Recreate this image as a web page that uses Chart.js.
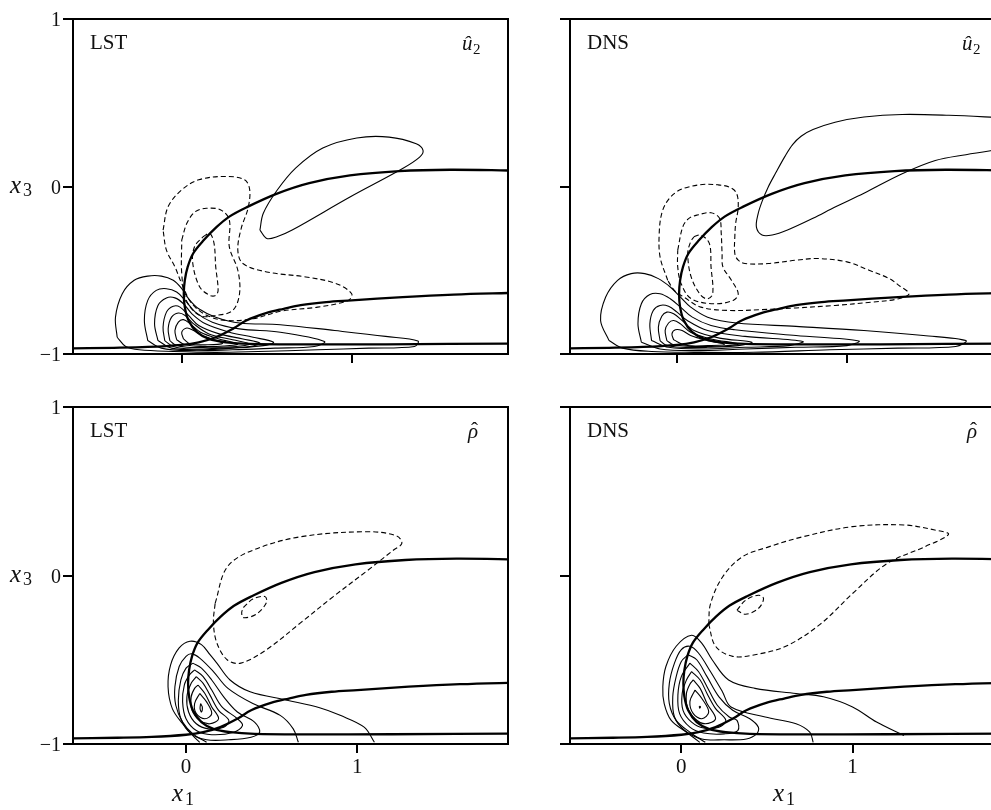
<!DOCTYPE html>
<html>
<head>
<meta charset="utf-8">
<script src="https://cdn.jsdelivr.net/npm/chart.js@4.4.0/dist/chart.umd.min.js"></script>
<style>
  html, body { margin: 0; padding: 0; background: #fff; overflow: hidden; }
  #fig { position: relative; width: 1030px; height: 810px; }
  canvas { position: absolute; }
</style>
</head>
<body>
<div id="fig">
  <canvas id="tl" width="520" height="380" style="left:0;top:0"></canvas>
  <canvas id="tr" width="520" height="380" style="left:500px;top:0"></canvas>
  <canvas id="bl" width="520" height="420" style="left:0;top:390px"></canvas>
  <canvas id="br" width="520" height="420" style="left:500px;top:390px"></canvas>
</div>
<script>
// ticks
const xTicks = [0, 1];
const xTickLabels = ['0', '1'];
const yTicks = [-1, 0, 1];
const yTickLabels = ['\u22121', '0', '1'];

// thick base curves (same in every panel)
const thickUpper = [[1.95,0.095],[1.58,0.10],[1.28,0.092],[0.99,0.066],[0.75,0.02],[0.557,-0.044],[0.38,-0.125],[0.28,-0.18],[0.204,-0.243],[0.13,-0.32],[0.067,-0.40],[0.035,-0.48],[0.018,-0.56],[0.012,-0.64],[0.018,-0.72],[0.04,-0.80],[0.09,-0.87],[0.16,-0.91],[0.26,-0.93],[0.40,-0.94],[0.70,-0.943],[1.20,-0.942],[1.95,-0.938]];
const thickLower = [[-0.70,-0.967],[-0.40,-0.963],[-0.20,-0.958],[0.0,-0.945],[0.10,-0.93],[0.20,-0.90],[0.30,-0.85],[0.38,-0.80],[0.50,-0.755],[0.60,-0.73],[0.70,-0.708],[0.85,-0.69],[1.0,-0.68],[1.30,-0.66],[1.60,-0.645],[1.95,-0.635]];

// LST, u2
const lstU2Solid = [
  [[-0.38,-0.90],[-0.39,-0.78],[-0.35,-0.64],[-0.28,-0.56],[-0.20,-0.535],[-0.12,-0.535],[-0.05,-0.56],[0.0,-0.61],[0.04,-0.67],[0.10,-0.73],[0.20,-0.78],[0.34,-0.815],[0.58,-0.825],[0.90,-0.86],[1.20,-0.895],[1.39,-0.922],[1.37,-0.955],[1.10,-0.965],[0.80,-0.975],[0.45,-0.985],[0.20,-0.99],[-0.05,-0.985],[-0.25,-0.975],[-0.33,-0.955],[-0.38,-0.90]],
  [[-0.20,-0.92],[-0.22,-0.80],[-0.20,-0.68],[-0.15,-0.62],[-0.09,-0.61],[-0.03,-0.63],[0.02,-0.68],[0.08,-0.75],[0.18,-0.81],[0.34,-0.85],[0.58,-0.87],[0.84,-0.925],[0.78,-0.955],[0.55,-0.965],[0.30,-0.975],[0.05,-0.98],[-0.12,-0.965],[-0.20,-0.92]],
  [[-0.14,-0.92],[-0.16,-0.82],[-0.14,-0.71],[-0.09,-0.665],[-0.04,-0.665],[0.01,-0.70],[0.06,-0.76],[0.14,-0.82],[0.28,-0.87],[0.42,-0.90],[0.54,-0.93],[0.48,-0.95],[0.30,-0.965],[0.10,-0.975],[-0.06,-0.965],[-0.14,-0.92]],
  [[-0.10,-0.92],[-0.11,-0.84],[-0.09,-0.75],[-0.05,-0.715],[-0.01,-0.72],[0.04,-0.77],[0.10,-0.83],[0.22,-0.88],[0.36,-0.91],[0.46,-0.935],[0.40,-0.955],[0.22,-0.965],[0.06,-0.97],[-0.05,-0.955],[-0.10,-0.92]],
  [[-0.07,-0.92],[-0.08,-0.85],[-0.06,-0.78],[-0.02,-0.755],[0.02,-0.77],[0.07,-0.82],[0.16,-0.88],[0.30,-0.915],[0.40,-0.94],[0.32,-0.955],[0.16,-0.96],[0.03,-0.96],[-0.04,-0.945],[-0.07,-0.92]],
  [[-0.03,-0.915],[-0.04,-0.86],[-0.02,-0.81],[0.01,-0.795],[0.05,-0.82],[0.11,-0.87],[0.22,-0.91],[0.33,-0.94],[0.25,-0.952],[0.12,-0.955],[0.02,-0.945],[-0.03,-0.915]],
  [[0.01,-0.91],[0.0,-0.87],[0.03,-0.845],[0.07,-0.86],[0.12,-0.89],[0.24,-0.935],[0.15,-0.945],[0.05,-0.94],[0.01,-0.91]],
  [[0.46,-0.26],[0.48,-0.16],[0.56,-0.024],[0.67,0.11],[0.83,0.23],[1.03,0.29],[1.22,0.295],[1.38,0.255],[1.42,0.215],[1.40,0.175],[1.30,0.107],[0.99,-0.063],[0.65,-0.26],[0.56,-0.30],[0.50,-0.31],[0.46,-0.26]]
];
const lstU2Dashed = [
  [[-0.11,-0.26],[-0.08,-0.12],[0.0,-0.02],[0.10,0.04],[0.26,0.06],[0.37,0.04],[0.40,-0.02],[0.39,-0.13],[0.35,-0.25],[0.33,-0.38],[0.36,-0.46],[0.50,-0.51],[0.73,-0.54],[0.91,-0.58],[1.0,-0.64],[0.98,-0.68],[0.80,-0.72],[0.58,-0.745],[0.42,-0.79],[0.26,-0.80],[0.15,-0.77],[0.06,-0.70],[0.0,-0.58],[-0.04,-0.48],[-0.09,-0.38],[-0.11,-0.26]],
  [[0.0,-0.32],[0.03,-0.22],[0.08,-0.15],[0.145,-0.13],[0.23,-0.14],[0.28,-0.20],[0.28,-0.36],[0.33,-0.50],[0.34,-0.64],[0.30,-0.74],[0.20,-0.77],[0.106,-0.77],[0.027,-0.68],[0.0,-0.52],[0.0,-0.32]],
  [[0.125,-0.30],[0.165,-0.28],[0.19,-0.34],[0.20,-0.48],[0.214,-0.62],[0.20,-0.65],[0.165,-0.65],[0.106,-0.60],[0.065,-0.46],[0.075,-0.36],[0.125,-0.30]]
];

// DNS, u2
const dnsU2Solid = [
  [[-0.40,-0.92],[-0.45,-0.80],[-0.42,-0.66],[-0.35,-0.56],[-0.27,-0.52],[-0.19,-0.52],[-0.11,-0.55],[-0.04,-0.60],[0.02,-0.66],[0.08,-0.72],[0.18,-0.78],[0.35,-0.815],[0.70,-0.835],[1.10,-0.86],[1.45,-0.89],[1.70,-0.92],[1.64,-0.955],[1.30,-0.965],[0.90,-0.975],[0.45,-0.99],[0.10,-0.99],[-0.15,-0.985],[-0.32,-0.965],[-0.40,-0.92]],
  [[-0.21,-0.93],[-0.23,-0.82],[-0.21,-0.70],[-0.16,-0.645],[-0.10,-0.64],[-0.04,-0.67],[0.02,-0.72],[0.09,-0.78],[0.20,-0.83],[0.34,-0.855],[0.70,-0.89],[1.07,-0.922],[1.00,-0.95],[0.70,-0.96],[0.40,-0.97],[0.10,-0.98],[-0.10,-0.97],[-0.21,-0.93]],
  [[-0.15,-0.92],[-0.16,-0.82],[-0.14,-0.74],[-0.10,-0.71],[-0.05,-0.715],[0.0,-0.75],[0.06,-0.80],[0.18,-0.86],[0.40,-0.895],[0.74,-0.925],[0.66,-0.95],[0.40,-0.96],[0.15,-0.97],[-0.05,-0.96],[-0.15,-0.92]],
  [[-0.10,-0.92],[-0.11,-0.84],[-0.09,-0.775],[-0.06,-0.75],[-0.02,-0.76],[0.03,-0.80],[0.10,-0.86],[0.25,-0.905],[0.44,-0.93],[0.36,-0.95],[0.18,-0.96],[0.02,-0.96],[-0.07,-0.945],[-0.10,-0.92]],
  [[-0.06,-0.92],[-0.07,-0.86],[-0.05,-0.815],[-0.02,-0.80],[0.02,-0.82],[0.08,-0.87],[0.20,-0.91],[0.36,-0.94],[0.26,-0.952],[0.10,-0.955],[-0.02,-0.945],[-0.06,-0.92]],
  [[-0.02,-0.915],[-0.03,-0.88],[-0.01,-0.855],[0.03,-0.86],[0.08,-0.89],[0.18,-0.92],[0.28,-0.942],[0.18,-0.95],[0.05,-0.948],[-0.02,-0.915]],
  [[1.92,0.41],[1.60,0.425],[1.325,0.43],[1.10,0.415],[0.93,0.384],[0.80,0.34],[0.73,0.30],[0.68,0.25],[0.635,0.18],[0.58,0.08],[0.536,-0.004],[0.50,-0.09],[0.477,-0.163],[0.467,-0.243],[0.50,-0.29],[0.56,-0.29],[0.65,-0.26],[0.80,-0.19],[0.93,-0.123],[1.10,-0.04],[1.325,0.076],[1.52,0.155],[1.70,0.19],[1.92,0.225]]
];
const dnsU2Dashed = [
  [[-0.055,-0.56],[-0.10,-0.42],[-0.105,-0.28],[-0.09,-0.16],[-0.055,-0.084],[0.0,-0.03],[0.063,-0.004],[0.15,0.012],[0.24,0.01],[0.31,-0.005],[0.35,-0.04],[0.36,-0.123],[0.345,-0.22],[0.34,-0.30],[0.34,-0.40],[0.36,-0.44],[0.40,-0.46],[0.536,-0.46],[0.70,-0.44],[0.83,-0.43],[1.0,-0.45],[1.13,-0.50],[1.25,-0.55],[1.305,-0.59],[1.365,-0.64],[1.305,-0.67],[1.15,-0.69],[0.93,-0.71],[0.70,-0.725],[0.50,-0.735],[0.30,-0.74],[0.14,-0.72],[0.04,-0.66],[-0.016,-0.62],[-0.055,-0.56]],
  [[0.004,-0.38],[0.034,-0.24],[0.07,-0.19],[0.12,-0.17],[0.20,-0.157],[0.25,-0.19],[0.26,-0.28],[0.265,-0.40],[0.27,-0.48],[0.32,-0.56],[0.36,-0.64],[0.33,-0.68],[0.22,-0.70],[0.083,-0.67],[0.024,-0.58],[0.004,-0.48],[0.004,-0.38]],
  [[0.10,-0.30],[0.14,-0.29],[0.19,-0.34],[0.20,-0.48],[0.21,-0.64],[0.18,-0.67],[0.14,-0.65],[0.083,-0.54],[0.063,-0.40],[0.08,-0.33],[0.10,-0.30]]
];

// LST, rho
const lstRhoSolid = [
  [[0.08,-0.99],[0.04,-0.95],[-0.02,-0.88],[-0.08,-0.79],[-0.105,-0.66],[-0.09,-0.53],[-0.04,-0.43],[0.023,-0.39],[0.09,-0.41],[0.14,-0.47],[0.18,-0.52],[0.257,-0.62],[0.374,-0.69],[0.59,-0.74],[0.78,-0.785],[0.90,-0.83],[1.04,-0.90],[1.10,-0.99]],
  [[0.12,-0.99],[0.04,-0.94],[-0.02,-0.87],[-0.06,-0.77],[-0.065,-0.66],[-0.04,-0.54],[0.0,-0.48],[0.033,-0.465],[0.08,-0.49],[0.16,-0.57],[0.245,-0.67],[0.39,-0.76],[0.55,-0.83],[0.626,-0.91],[0.656,-0.99]],
  [[0.04,-0.52],[0.09,-0.55],[0.15,-0.62],[0.22,-0.72],[0.30,-0.81],[0.40,-0.87],[0.43,-0.93],[0.38,-0.96],[0.25,-0.975],[0.12,-0.975],[0.03,-0.94],[-0.03,-0.85],[-0.045,-0.74],[-0.03,-0.62],[0.0,-0.55],[0.04,-0.52]],
  [[0.05,-0.56],[0.10,-0.60],[0.15,-0.68],[0.21,-0.78],[0.30,-0.85],[0.33,-0.89],[0.28,-0.93],[0.15,-0.945],[0.06,-0.92],[0.0,-0.85],[-0.02,-0.75],[-0.01,-0.65],[0.02,-0.59],[0.05,-0.56]],
  [[0.06,-0.60],[0.10,-0.64],[0.14,-0.71],[0.19,-0.80],[0.25,-0.86],[0.22,-0.90],[0.13,-0.91],[0.06,-0.88],[0.015,-0.81],[0.005,-0.72],[0.03,-0.64],[0.06,-0.60]],
  [[0.07,-0.65],[0.11,-0.70],[0.15,-0.78],[0.19,-0.85],[0.14,-0.88],[0.08,-0.86],[0.035,-0.80],[0.03,-0.72],[0.05,-0.67],[0.07,-0.65]],
  [[0.08,-0.70],[0.12,-0.75],[0.15,-0.82],[0.11,-0.85],[0.06,-0.82],[0.05,-0.76],[0.08,-0.70]],
  [[0.085,-0.76],[0.095,-0.78],[0.09,-0.81],[0.082,-0.79],[0.085,-0.76]]
];
const lstRhoDashed = [
  [[0.17,-0.165],[0.24,0.05],[0.39,0.15],[0.67,0.23],[1.06,0.26],[1.23,0.235],[1.26,0.19],[1.21,0.15],[1.06,0.03],[0.86,-0.125],[0.67,-0.28],[0.47,-0.44],[0.32,-0.52],[0.24,-0.50],[0.18,-0.40],[0.16,-0.28],[0.17,-0.165]],
  [[0.335,-0.19],[0.39,-0.14],[0.46,-0.125],[0.47,-0.16],[0.41,-0.23],[0.335,-0.25],[0.325,-0.22],[0.335,-0.19]]
];

// DNS, rho
const dnsRhoSolid = [
  [[0.108,-0.99],[0.03,-0.93],[-0.059,-0.86],[-0.10,-0.76],[-0.108,-0.66],[-0.09,-0.54],[-0.03,-0.42],[0.06,-0.355],[0.118,-0.40],[0.18,-0.50],[0.276,-0.62],[0.43,-0.67],[0.67,-0.70],[0.83,-0.72],[1.0,-0.78],[1.14,-0.87],[1.30,-0.95]],
  [[0.14,-0.99],[0.05,-0.93],[-0.03,-0.86],[-0.07,-0.76],[-0.07,-0.64],[-0.04,-0.52],[0.0,-0.44],[0.05,-0.42],[0.10,-0.46],[0.17,-0.57],[0.24,-0.69],[0.29,-0.78],[0.49,-0.84],[0.67,-0.88],[0.75,-0.93],[0.77,-0.99]],
  [[0.04,-0.47],[0.09,-0.50],[0.15,-0.60],[0.22,-0.72],[0.30,-0.80],[0.40,-0.85],[0.45,-0.90],[0.44,-0.94],[0.38,-0.97],[0.25,-0.975],[0.12,-0.97],[0.02,-0.92],[-0.04,-0.84],[-0.05,-0.72],[-0.03,-0.60],[0.0,-0.51],[0.04,-0.47]],
  [[0.05,-0.52],[0.10,-0.57],[0.15,-0.66],[0.21,-0.77],[0.28,-0.84],[0.325,-0.86],[0.33,-0.92],[0.25,-0.94],[0.13,-0.935],[0.05,-0.90],[-0.01,-0.82],[-0.02,-0.71],[0.0,-0.60],[0.05,-0.52]],
  [[0.06,-0.57],[0.11,-0.62],[0.15,-0.70],[0.20,-0.79],[0.26,-0.86],[0.22,-0.90],[0.13,-0.905],[0.06,-0.87],[0.01,-0.80],[0.005,-0.70],[0.03,-0.62],[0.06,-0.57]],
  [[0.07,-0.62],[0.11,-0.67],[0.15,-0.76],[0.20,-0.85],[0.14,-0.88],[0.08,-0.85],[0.035,-0.78],[0.03,-0.70],[0.05,-0.645],[0.07,-0.62]],
  [[0.08,-0.68],[0.12,-0.73],[0.16,-0.81],[0.12,-0.85],[0.07,-0.82],[0.05,-0.75],[0.08,-0.68]],
  [[0.105,-0.775],[0.112,-0.78],[0.107,-0.787],[0.105,-0.775]]
];
const dnsRhoDashed = [
  [[0.16,-0.29],[0.17,-0.17],[0.24,-0.01],[0.355,0.11],[0.51,0.17],[0.71,0.23],[1.0,0.29],[1.30,0.30],[1.48,0.27],[1.56,0.244],[1.42,0.17],[1.20,0.07],[1.0,-0.107],[0.81,-0.29],[0.61,-0.42],[0.43,-0.47],[0.30,-0.48],[0.20,-0.42],[0.16,-0.29]],
  [[0.325,-0.206],[0.375,-0.147],[0.45,-0.117],[0.48,-0.137],[0.45,-0.196],[0.375,-0.23],[0.325,-0.206]]
];

const SERIF = '"Liberation Serif", serif';

function curve(pts, width, dash) {
  return {
    data: pts.map(p => ({ x: p[0], y: p[1] })),
    showLine: true, borderColor: '#000', borderWidth: width,
    borderDash: dash || [], pointRadius: 0, tension: 0.35, fill: false
  };
}

// frame, tick labels (placed from the chart's own scales) and panel annotations
function panelText(p) {
  return {
    id: 'panelText',
    afterDraw(chart) {
      const { ctx, chartArea: a, scales } = chart;
      ctx.save();
      ctx.strokeStyle = '#000';
      ctx.lineWidth = 2;
      ctx.strokeRect(a.left, a.top, a.right - a.left, a.bottom - a.top);
      ctx.fillStyle = '#111';
      ctx.textBaseline = 'alphabetic';

      if (p.yLabels) {
        ctx.font = '20px ' + SERIF;
        ctx.textAlign = 'right';
        yTicks.forEach((v, i) => ctx.fillText(yTickLabels[i], a.left - 12, scales.y.getPixelForValue(v) + 7));
      }
      if (p.xLabels) {
        ctx.font = '21px ' + SERIF;
        ctx.textAlign = 'center';
        xTicks.forEach((v, i) => ctx.fillText(xTickLabels[i], scales.x.getPixelForValue(v), a.bottom + 29));
      }
      ctx.textAlign = 'left';

      ctx.font = '21px ' + SERIF;
      ctx.fillText(p.tag, a.left + 17, a.top + 30);
      const sx = a.left + p.symX;
      ctx.font = 'italic 21px ' + SERIF;
      ctx.fillText(p.sym, sx, a.top + 31);
      if (p.hat) {
        ctx.font = '21px ' + SERIF;
        ctx.fillText('\u02c6', sx + 3, a.top + 30);
      }
      if (p.sub) {
        ctx.font = '15px ' + SERIF;
        ctx.fillText(p.sub, sx + 11, a.top + 35);
      }
      if (p.yTitle) {
        const y0 = scales.y.getPixelForValue(0);
        ctx.font = 'italic 25px ' + SERIF;
        ctx.fillText('x', 10, y0 + 6);
        ctx.font = '18px ' + SERIF;
        ctx.fillText('3', 23, y0 + 9);
      }
      if (p.xTitleX !== undefined) {
        ctx.font = 'italic 25px ' + SERIF;
        ctx.fillText('x', p.xTitleX, a.bottom + 57);
        ctx.font = '18px ' + SERIF;
        ctx.fillText('1', p.xTitleX + 13, a.bottom + 61);
      }
      ctx.restore();
    }
  };
}

function makePanel(id, cfg) {
  const datasets = [];
  cfg.solid.forEach(c => datasets.push(curve(c, 1.1)));
  cfg.dashed.forEach(c => datasets.push(curve(c, 1.1, [5, 3])));
  datasets.push(curve(thickUpper, 2.3));
  datasets.push(curve(thickLower, 2.3));
  const canvas = document.getElementById(id);
  new Chart(canvas, {
    type: 'scatter',
    data: { datasets },
    options: {
      responsive: false, animation: false, events: [],
      layout: { padding: cfg.pad },
      plugins: { legend: { display: false }, tooltip: { enabled: false } },
      scales: {
        x: {
          type: 'linear', min: cfg.xMin, max: cfg.xMax,
          afterBuildTicks: s => { s.ticks = xTicks.map(v => ({ value: v })); },
          afterFit: s => { s.height = cfg.xAxisH; },
          ticks: { display: false },
          grid: { display: true, drawOnChartArea: false, drawTicks: true, tickLength: 9, lineWidth: 2, color: '#000' },
          border: { display: false }
        },
        y: {
          type: 'linear', min: -1, max: 1,
          afterBuildTicks: s => { s.ticks = yTicks.map(v => ({ value: v })); },
          afterFit: s => { s.width = 30; },
          ticks: { display: false },
          grid: { display: true, drawOnChartArea: false, drawTicks: true, tickLength: 10, lineWidth: 2, color: '#000' },
          border: { display: false }
        }
      }
    },
    plugins: [panelText(cfg.text)]
  });
}

makePanel('tl', {
  solid: lstU2Solid, dashed: lstU2Dashed, xMin: -0.64, xMax: 1.92,
  pad: { left: 43, top: 19, right: 12, bottom: 6 }, xAxisH: 20,
  text: { tag: 'LST', sym: '\u00fb', sub: '2', symX: 389, yTitle: true, yLabels: true, xLabels: false }
});
makePanel('tr', {
  solid: dnsU2Solid, dashed: dnsU2Dashed, xMin: -0.63, xMax: 1.93,
  pad: { left: 40, top: 19, right: 15, bottom: 6 }, xAxisH: 20,
  text: { tag: 'DNS', sym: '\u00fb', sub: '2', symX: 392, yTitle: false, yLabels: false, xLabels: false }
});
makePanel('bl', {
  solid: lstRhoSolid, dashed: lstRhoDashed, xMin: -0.66, xMax: 1.88,
  pad: { left: 43, top: 17, right: 12, bottom: 36 }, xAxisH: 30,
  text: { tag: 'LST', sym: '\u03c1', hat: true, symX: 395, yTitle: true, yLabels: true, xLabels: true, xTitleX: 172 }
});
makePanel('br', {
  solid: dnsRhoSolid, dashed: dnsRhoDashed, xMin: -0.65, xMax: 1.89,
  pad: { left: 40, top: 17, right: 15, bottom: 36 }, xAxisH: 30,
  text: { tag: 'DNS', sym: '\u03c1', hat: true, symX: 397, yTitle: false, yLabels: false, xLabels: true, xTitleX: 273 }
});
</script>
</body>
</html>
